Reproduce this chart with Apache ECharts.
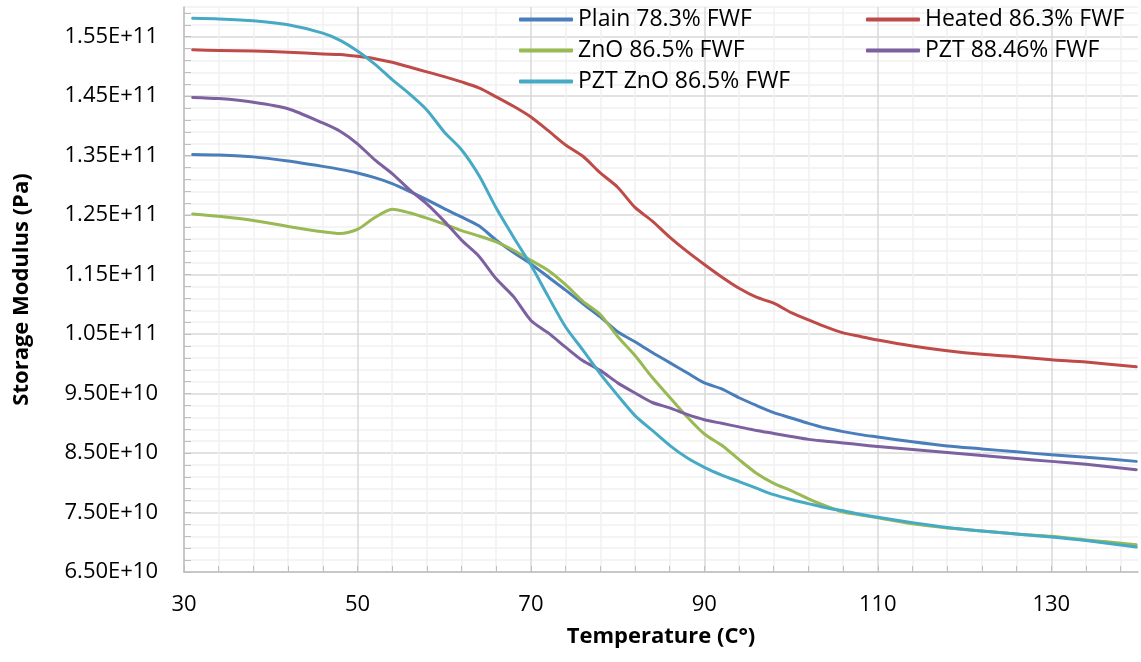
<!DOCTYPE html>
<html>
<head>
<meta charset="utf-8">
<title>Storage Modulus vs Temperature</title>
<script src="https://cdn.jsdelivr.net/npm/echarts@6/dist/echarts.min.js"></script>
<style>
  html, body { margin: 0; padding: 0; background: #fff; }
  #chart-wrapper { width: 1141px; height: 662px; }
</style>
</head>
<body>
<div id="chart-wrapper"></div>
<script>
// temperature (C) shared by all curves
const temps = [31, 34, 38, 42, 46, 48, 50, 52, 54, 56, 58, 60, 62, 64, 66, 68, 70, 72, 74, 76, 78, 80,
  82, 84, 86, 88, 90, 92, 94, 96, 98, 100, 102, 104, 106, 108, 110, 114, 118, 122, 126, 130, 134, 139.8];

// storage modulus, in units of 1E+09 Pa
const plain = [135.2, 135.1, 134.8, 134.1, 133.2, 132.7, 132.1, 131.3, 130.3, 129.0, 127.6, 126.1, 124.7, 123.2,
  120.8, 118.7, 116.8, 114.6, 112.4, 110.1, 107.9, 105.4, 103.7, 101.9, 100.2, 98.5, 96.8, 95.8, 94.3, 93.0,
  91.8, 90.9, 90.0, 89.2, 88.6, 88.1, 87.7, 86.9, 86.2, 85.7, 85.2, 84.7, 84.3, 83.6];
const heated = [152.8, 152.7, 152.6, 152.4, 152.1, 152.0, 151.7, 151.3, 150.7, 149.9, 149.1, 148.3, 147.4, 146.4,
  144.9, 143.3, 141.5, 139.2, 136.8, 134.9, 132.1, 129.7, 126.3, 124.0, 121.3, 118.9, 116.7, 114.6, 112.7, 111.2,
  110.2, 108.6, 107.4, 106.2, 105.2, 104.6, 104.0, 103.0, 102.2, 101.6, 101.2, 100.7, 100.3, 99.5];
const zno = [125.2, 124.8, 124.1, 123.1, 122.2, 121.9, 122.6, 124.6, 126.0, 125.4, 124.5, 123.5, 122.4, 121.5,
  120.5, 119.1, 117.4, 115.7, 113.3, 110.5, 108.3, 104.6, 101.4, 97.7, 94.4, 91.1, 88.2, 86.3, 83.9, 81.6,
  79.9, 78.7, 77.3, 76.1, 75.1, 74.6, 74.1, 73.1, 72.4, 71.9, 71.4, 71.0, 70.4, 69.6];
const pzt = [144.8, 144.6, 144.0, 142.9, 140.5, 139.1, 137.0, 134.3, 132.0, 129.3, 126.9, 124.0, 120.8, 118.1,
  114.3, 111.3, 107.3, 105.2, 102.8, 100.5, 98.9, 96.8, 95.1, 93.5, 92.6, 91.5, 90.6, 90.0, 89.4, 88.8,
  88.3, 87.8, 87.3, 87.0, 86.7, 86.4, 86.1, 85.6, 85.1, 84.6, 84.1, 83.6, 83.1, 82.2];
const pztZno = [158.1, 158.0, 157.7, 157.0, 155.6, 154.4, 152.6, 150.4, 147.8, 145.4, 142.7, 139.0, 136.0, 131.7,
  126.2, 121.3, 116.6, 111.3, 106.2, 102.3, 98.3, 94.7, 91.3, 88.8, 86.3, 84.2, 82.6, 81.3, 80.2, 79.1,
  78.0, 77.2, 76.5, 75.8, 75.3, 74.7, 74.2, 73.3, 72.5, 71.9, 71.4, 70.9, 70.3, 69.2];

const seriesNames = ["Plain 78.3% FWF", "Heated 86.3% FWF", "ZnO 86.5% FWF", "PZT 88.46% FWF", "PZT ZnO 86.5% FWF"];
const seriesValues = [plain, heated, zno, pzt, pztZno];
const seriesColors = ["#4a7ebb", "#be4b48", "#98b954", "#7d60a0", "#46aac5"];

// axes start at 30 C and 6.50E+10 Pa, so values are offset to keep the ticks on these origins
const X0 = 30;
const Y0 = 65;

const FONT = "Open Sans";
const MAJOR = "#d9d9d9";
const MINOR = "#f0f0f0";

const fmtSci = (v) => {
  const n = (v + Y0) * 1e9;
  const e = Math.floor(Math.log10(n));
  return (n / Math.pow(10, e)).toFixed(2) + "E+" + e;
};

const chartDom = document.getElementById("chart-wrapper");
const chart = echarts.init(chartDom, null, { renderer: "canvas" });

const series = seriesNames.map((name, i) => ({
  name: name,
  type: "line",
  data: temps.map((t, j) => [t - X0, seriesValues[i][j] - Y0]),
  symbol: "none",
  showSymbol: false,
  smooth: 0.25,
  lineStyle: { width: 3, color: seriesColors[i], cap: "round", join: "round" },
  itemStyle: { color: seriesColors[i] },
}));

const legendBase = {
  orient: "vertical",
  top: 8,
  icon: "roundRect",
  itemWidth: 54,
  itemHeight: 4,
  itemGap: 8,
  itemStyle: { borderWidth: 0 },
  padding: 0,
  textStyle: { fontFamily: FONT, fontSize: 23, color: "#000", lineHeight: 23 },
};

const option = {
  backgroundColor: "#fff",
  animation: false,
  grid: {
    left: 184,
    right: 3,
    top: 7,
    bottom: 90,
    containLabel: false,
    outerBoundsMode: "none",
  },
  legend: [
    Object.assign({}, legendBase, { left: 519, data: [seriesNames[0], seriesNames[2], seriesNames[4]] }),
    Object.assign({}, legendBase, { left: 866, data: [seriesNames[1], seriesNames[3]] }),
  ],
  xAxis: {
    type: "value",
    min: 0,
    max: 110,
    interval: 4,
    name: "Temperature (C°)",
    nameLocation: "middle",
    nameGap: 54,
    nameTextStyle: { fontFamily: FONT, fontSize: 22, fontWeight: "bold", color: "#000" },
    axisLine: { show: true, lineStyle: { color: "#bfbfbf", width: 1.5 } },
    axisTick: { show: true, inside: true, length: 6, lineStyle: { color: "#bfbfbf" } },
    axisLabel: {
      fontFamily: FONT,
      fontSize: 22,
      color: "#000",
      margin: 22,
      showMaxLabel: false,
      formatter: (v) => (Math.round(v) % 20 === 0 ? String(Math.round(v) + X0) : ""),
    },
    splitLine: {
      show: true,
      showMaxLine: false,
      lineStyle: { color: [MAJOR, MINOR, MINOR, MINOR, MINOR], width: 1.5 },
    },
  },
  yAxis: {
    type: "value",
    min: 0,
    max: 95,
    interval: 2,
    name: "Storage Modulus (Pa)",
    nameLocation: "middle",
    nameRotate: 90,
    nameGap: 151,
    nameTextStyle: { fontFamily: FONT, fontSize: 22, fontWeight: "bold", color: "#000" },
    axisLine: { show: true, lineStyle: { color: "#bfbfbf", width: 1.5 } },
    axisTick: { show: true, inside: true, length: 7, lineStyle: { color: "#bfbfbf" } },
    axisLabel: {
      fontFamily: FONT,
      fontSize: 22,
      color: "#000",
      margin: 26,
      showMaxLabel: false,
      formatter: (v) => (Math.round(v) % 10 === 0 ? fmtSci(Math.round(v)) : ""),
    },
    splitLine: {
      show: true,
      lineStyle: { color: [MAJOR, MINOR, MINOR, MINOR, MINOR], width: 1.5 },
    },
  },
  series: series,
};

chart.setOption(option);
</script>
</body>
</html>
